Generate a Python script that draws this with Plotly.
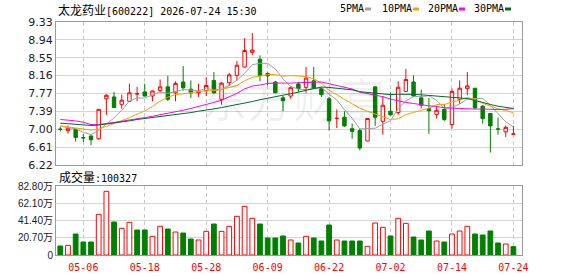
import plotly.graph_objects as go
import numpy as np

# ---------------- data ----------------
stock_name = "太龙药业"
stock_code = "600222"
stamp = "2026-07-24 15:30"

dates = [
    "2026-04-28", "2026-04-29", "2026-04-30", "2026-05-06", "2026-05-07", "2026-05-08",
    "2026-05-11", "2026-05-12", "2026-05-13", "2026-05-14", "2026-05-15", "2026-05-18",
    "2026-05-19", "2026-05-20", "2026-05-21", "2026-05-22", "2026-05-25", "2026-05-26",
    "2026-05-27", "2026-05-28", "2026-05-29", "2026-06-01", "2026-06-02", "2026-06-03",
    "2026-06-04", "2026-06-05", "2026-06-08", "2026-06-09", "2026-06-10", "2026-06-11",
    "2026-06-12", "2026-06-15", "2026-06-16", "2026-06-17", "2026-06-18", "2026-06-22",
    "2026-06-23", "2026-06-24", "2026-06-25", "2026-06-26", "2026-06-29", "2026-06-30",
    "2026-07-01", "2026-07-02", "2026-07-03", "2026-07-06", "2026-07-07", "2026-07-08",
    "2026-07-09", "2026-07-10", "2026-07-13", "2026-07-14", "2026-07-15", "2026-07-16",
    "2026-07-17", "2026-07-20", "2026-07-21", "2026-07-22", "2026-07-23", "2026-07-24",
]

open_ = [7.00, 6.97, 6.995, 6.815, 6.85, 6.79, 7.66, 7.70, 7.54, 7.605,
         7.765, 7.81, 7.72, 7.84, 7.92, 7.79, 8.025, 7.87, 7.79, 7.84,
         8.06, 7.65, 8.01, 8.17, 8.35, 8.67, 8.52, 8.21, 8.025, 7.68,
         7.72, 7.98, 7.91, 8.05, 7.88, 7.66, 7.23, 7.26, 7.01, 6.97,
         6.74, 7.92, 7.17, 7.39, 7.36, 7.82, 8.025, 7.68, 7.445, 7.32,
         7.43, 7.10, 7.65, 7.88, 7.89, 7.50, 7.34, 7.005, 6.94, 6.89]
high = [7.05, 7.08, 7.025, 6.90, 6.88, 7.43, 7.76, 7.81, 7.75, 7.99,
        7.92, 7.99, 7.84, 8.08, 8.16, 8.04, 8.37, 8.06, 7.99, 8.13,
        8.24, 8.02, 8.22, 8.48, 8.98, 9.09, 8.605, 8.24, 8.05, 7.72,
        7.92, 8.025, 8.35, 8.35, 7.92, 7.70, 7.43, 7.39, 7.12, 7.01,
        7.23, 7.92, 7.72, 7.79, 8.04, 8.31, 8.17, 7.86, 7.68, 7.50,
        7.55, 7.88, 8.06, 8.24, 7.89, 7.52, 7.34, 7.25, 7.08, 7.07]
low = [6.95, 6.90, 6.73, 6.72, 6.65, 6.77, 7.31, 7.46, 7.45, 7.59,
       7.605, 7.71, 7.605, 7.79, 7.61, 7.605, 7.84, 7.68, 7.70, 7.72,
       7.77, 7.53, 7.94, 8.06, 8.34, 8.605, 8.04, 7.95, 7.78, 7.39,
       7.66, 7.81, 7.79, 7.88, 7.70, 6.97, 7.025, 7.05, 6.79, 6.54,
       6.74, 7.07, 6.88, 7.30, 7.31, 7.81, 7.70, 7.45, 6.90, 7.23,
       7.17, 7.01, 7.55, 7.735, 7.445, 7.12, 6.49, 6.88, 6.83, 6.89]
close = [6.995, 7.02, 6.82, 6.81, 6.77, 7.43, 7.735, 7.47, 7.63, 7.79,
         7.77, 7.72, 7.83, 7.92, 7.65, 7.995, 7.90, 7.79, 7.82, 7.95,
         7.79, 8.00, 8.18, 8.39, 8.71, 8.72, 8.17, 8.16, 7.79, 7.62,
         7.90, 7.88, 8.11, 7.89, 7.75, 7.18, 7.235, 7.07, 6.95, 6.59,
         7.23, 7.26, 7.52, 7.31, 7.91, 8.08, 7.72, 7.52, 7.40, 7.41,
         7.21, 7.82, 7.89, 7.94, 7.46, 7.23, 7.07, 7.00, 7.04, 6.895]
prev_close_first = 7.03

# volume in 万 (10k)
volume = [10.8, 11.6, 25.2, 15.6, 15.6, 48.8, 76.4, 39.6, 32.0, 39.2,
          30.0, 30.0, 22.4, 34.4, 31.2, 27.6, 26.4, 19.2, 18.0, 28.4,
          37.2, 28.4, 34.4, 46.4, 58.4, 44.0, 37.2, 20.4, 20.4, 22.8,
          18.0, 14.4, 22.4, 20.4, 16.8, 36.0, 18.0, 16.8, 16.8, 16.8,
          10.4, 38.4, 33.2, 22.8, 44.0, 38.0, 21.6, 18.0, 28.8, 16.8,
          15.6, 25.2, 28.8, 34.4, 25.2, 24.0, 28.8, 14.4, 13.2, 10.0327]

# moving-average values before a full window exists
ma5_seed = [7.07, 7.03, 7.01, 6.93]
ma10_seed = [7.07, 7.05, 7.02, 7.00, 6.98, 7.00, 7.06, 7.12, 7.18]
ma20_seed = [7.21, 7.20, 7.18, 7.15, 7.10, 7.10, 7.12, 7.14, 7.17, 7.20,
             7.22, 7.25, 7.28, 7.31, 7.34, 7.37, 7.41, 7.45, 7.49]
ma30_seed = [7.13, 7.12, 7.11, 7.09, 7.08, 7.09, 7.11, 7.14, 7.16, 7.18,
             7.21, 7.23, 7.25, 7.27, 7.29, 7.31, 7.34, 7.36, 7.39, 7.41,
             7.44, 7.47, 7.50, 7.54, 7.57, 7.60, 7.64, 7.67, 7.71]

ytick_text = ["6.22", "6.61", "7.00", "7.39", "7.77", "8.16", "8.55", "8.94", "9.33"]
vtick_vals = [0, 20.70, 41.40, 62.10, 82.80]
vtick_text = ["0", "20.70万", "41.40万", "62.10万", "82.80万"]
xtick_dates = ["2026-05-06", "2026-05-18", "2026-05-28", "2026-06-09",
               "2026-06-22", "2026-07-02", "2026-07-14", "2026-07-24"]
xtick_text = ["05-06", "05-18", "05-28", "06-09", "06-22", "07-02", "07-14", "07-24"]

ma_names = ["5PMA", "10PMA", "20PMA", "30PMA"]
ma_colors = ["#a0a0a0", "#f5a300", "#ff00ff", "#006b2e"]

# ---------------- derived ----------------
c = np.array(close)
N = len(c)


def moving_avg(n, seed):
    vals = list(seed)
    for i in range(n - 1, N):
        vals.append(float(c[i - n + 1:i + 1].mean()))
    return vals


mas = [moving_avg(5, ma5_seed), moving_avg(10, ma10_seed),
       moving_avg(20, ma20_seed), moving_avg(30, ma30_seed)]

RED = "#ff0000"
GREEN = "#008000"
prev = [prev_close_first] + close[:-1]
vol_up = [close[i] > prev[i] for i in range(N)]
vol_fill = ["#ffffff" if u else GREEN for u in vol_up]
vol_line = [RED if u else GREEN for u in vol_up]

# ---------------- layout helpers ----------------
W, H = 578, 276
ML, MR, MT, MB = 56, 56, 22, 21
PW, PH = W - ML - MR, H - MT - MB


def px(x):
    return (x - ML) / PW


def py(y):
    return (H - MB - y) / PH


fig = go.Figure()

fig.add_trace(go.Candlestick(
    x=dates, open=open_, high=high, low=low, close=close,
    increasing=dict(line=dict(color=RED, width=1), fillcolor="#ffffff"),
    decreasing=dict(line=dict(color=GREEN, width=1), fillcolor=GREEN),
    whiskerwidth=0, hoverinfo="skip", showlegend=False,
    xaxis="x", yaxis="y",
))

for name, col, vals in zip(ma_names, ma_colors, mas):
    fig.add_trace(go.Scatter(
        x=dates, y=vals, mode="lines", name=name,
        line=dict(color=col, width=1), hoverinfo="skip", showlegend=False,
        xaxis="x", yaxis="y",
    ))

fig.add_trace(go.Bar(
    x=dates, y=volume, width=0.62,
    marker=dict(color=vol_fill, line=dict(color=vol_line, width=1)),
    hoverinfo="skip", showlegend=False, xaxis="x2", yaxis="y2",
))

xrange = [-0.56, N + 0.12]
common_x = dict(
    type="category", range=xrange, showgrid=True, gridcolor="#c8c8c8",
    griddash="4px,3px", gridwidth=1, tickvals=xtick_dates, ticktext=xtick_text,
    showline=True, linecolor="#999999", linewidth=1, mirror=True,
    ticks="", zeroline=False, fixedrange=True, automargin=False,
)

ytickvals = list(np.linspace(6.22, 9.33, len(ytick_text)))

fig.update_layout(
    width=W, height=H,
    margin=dict(l=ML, r=MR, t=MT, b=MB, pad=0, autoexpand=False),
    paper_bgcolor="#ffffff", plot_bgcolor="#ffffff",
    boxgap=0.36, bargap=0.3,
    showlegend=False,
    xaxis=dict(common_x, anchor="y", domain=[0, 1], showticklabels=False,
               rangeslider=dict(visible=False)),
    yaxis=dict(domain=[py(165), 1], range=[6.22, 9.33], tickvals=ytickvals,
               ticktext=ytick_text, showgrid=True, gridcolor="#d4d4d4",
               gridwidth=1, showline=True, linecolor="#999999", linewidth=1,
               mirror=True, ticks="", zeroline=False, automargin=False,
               tickfont=dict(family="DejaVu Sans", size=11, color="#1a1a2a"),
               fixedrange=True),
    xaxis2=dict(common_x, anchor="y2", domain=[0, 1], showticklabels=True,
                ticklabelstandoff=3,
                tickfont=dict(family="DejaVu Sans Mono", size=10, color=RED)),
    yaxis2=dict(domain=[0, py(186)], range=[0, 82.8], tickvals=vtick_vals,
                ticktext=vtick_text, showgrid=True, gridcolor="#d4d4d4",
                gridwidth=1, showline=True, linecolor="#999999", linewidth=1,
                mirror=True, ticks="", zeroline=False, automargin=False,
                tickfont=dict(family="Liberation Sans, Noto Sans CJK SC", size=10,
                              color="#1a1a2a"),
                fixedrange=True),
)

annotations = []
# watermark
annotations.append(dict(
    text="东方财富", x=px(293), y=py(97), xref="paper", yref="paper",
    showarrow=False, xanchor="center", yanchor="middle",
    font=dict(family="Noto Sans CJK SC", size=46, color="rgba(0,0,0,0.06)"),
))
# title
annotations.append(dict(
    text=f'<span style="font-size:12px">{stock_name}</span>[{stock_code}] {stamp}',
    x=px(56), y=py(10), xref="paper", yref="paper", showarrow=False,
    xanchor="left", yanchor="middle",
    font=dict(family="DejaVu Sans Mono, Noto Sans CJK SC", size=10, color="#000000"),
))
# volume label
annotations.append(dict(
    text=f'<span style="font-size:12px">成交量</span>:{int(round(volume[-1] * 10000))}',
    x=px(57), y=py(177), xref="paper", yref="paper", showarrow=False,
    xanchor="left", yanchor="middle",
    font=dict(family="DejaVu Sans Mono, Noto Sans CJK SC", size=10, color="#000000"),
))

shapes = []
leg_text_x = [338, 380, 426, 472]
leg_sq_x = [365, 413, 459, 505]
for name, col, tx, sx in zip(ma_names, ma_colors, leg_text_x, leg_sq_x):
    annotations.append(dict(
        text=name, x=px(tx), y=py(9), xref="paper", yref="paper",
        showarrow=False, xanchor="left", yanchor="middle",
        font=dict(family="DejaVu Sans Mono", size=10, color="#000000"),
    ))
    shapes.append(dict(
        type="rect", xref="paper", yref="paper",
        x0=px(sx), x1=px(sx + 6), y0=py(10.5), y1=py(7.5),
        fillcolor=col, line=dict(width=0),
    ))

fig.update_layout(annotations=annotations, shapes=shapes)

fig.write_html("out.html", config={"displayModeBar": False, "staticPlot": True})
